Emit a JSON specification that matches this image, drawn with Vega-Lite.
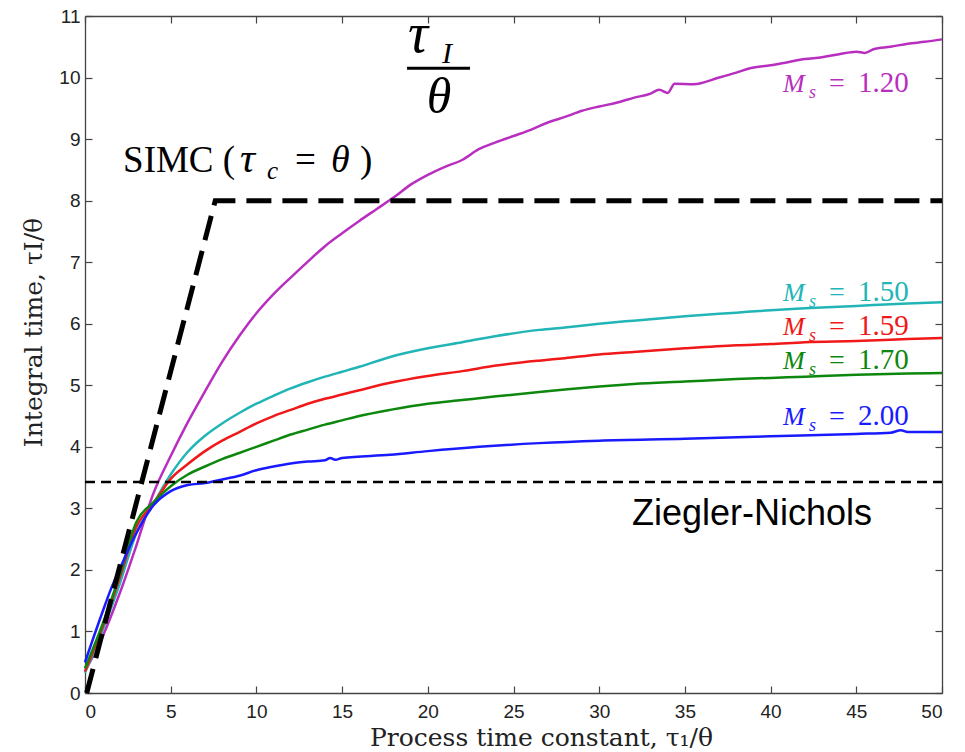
{
  "$schema": "https://vega.github.io/schema/vega-lite/v6.json",
  "width": 857,
  "height": 677,
  "autosize": {"type": "none"},
  "padding": {"left": 85, "top": 16, "right": 23, "bottom": 59},
  "background": "white",
  "config": {
    "view": {"stroke": null},
    "axis": {
      "grid": false,
      "domainColor": "#444",
      "domainWidth": 1.3,
      "tickColor": "#444",
      "tickWidth": 1.2,
      "labelFont": "Liberation Sans",
      "labelFontSize": 19,
      "labelColor": "#222",
      "titleFont": "DejaVu Serif",
      "titleFontWeight": "normal",
      "titleFontSize": 25,
      "titleColor": "#222"
    }
  },
  "datasets": {
    "curves": [
      {"ms": "1.20", "x": 0, "y": 0.35}, {"ms": "1.20", "x": 1, "y": 0.9}, {"ms": "1.20", "x": 2, "y": 1.6}, {"ms": "1.20", "x": 3, "y": 2.4},
      {"ms": "1.20", "x": 4, "y": 3.25}, {"ms": "1.20", "x": 5, "y": 3.85}, {"ms": "1.20", "x": 6, "y": 4.4}, {"ms": "1.20", "x": 7, "y": 4.9},
      {"ms": "1.20", "x": 8, "y": 5.38}, {"ms": "1.20", "x": 9, "y": 5.8}, {"ms": "1.20", "x": 10, "y": 6.17}, {"ms": "1.20", "x": 11, "y": 6.48},
      {"ms": "1.20", "x": 12, "y": 6.75}, {"ms": "1.20", "x": 13, "y": 7.01}, {"ms": "1.20", "x": 14, "y": 7.26}, {"ms": "1.20", "x": 15, "y": 7.47},
      {"ms": "1.20", "x": 16, "y": 7.67}, {"ms": "1.20", "x": 17, "y": 7.86}, {"ms": "1.20", "x": 18, "y": 8.05}, {"ms": "1.20", "x": 19, "y": 8.26},
      {"ms": "1.20", "x": 20, "y": 8.42}, {"ms": "1.20", "x": 21, "y": 8.55}, {"ms": "1.20", "x": 22, "y": 8.66}, {"ms": "1.20", "x": 23, "y": 8.84},
      {"ms": "1.20", "x": 24, "y": 8.95}, {"ms": "1.20", "x": 25, "y": 9.05}, {"ms": "1.20", "x": 26, "y": 9.15}, {"ms": "1.20", "x": 27, "y": 9.27},
      {"ms": "1.20", "x": 28, "y": 9.36}, {"ms": "1.20", "x": 29, "y": 9.46}, {"ms": "1.20", "x": 30, "y": 9.53}, {"ms": "1.20", "x": 31, "y": 9.59},
      {"ms": "1.20", "x": 32, "y": 9.67}, {"ms": "1.20", "x": 33, "y": 9.74}, {"ms": "1.20", "x": 33.5, "y": 9.8}, {"ms": "1.20", "x": 34, "y": 9.75},
      {"ms": "1.20", "x": 34.4, "y": 9.9}, {"ms": "1.20", "x": 35.5, "y": 9.89}, {"ms": "1.20", "x": 37, "y": 10.0}, {"ms": "1.20", "x": 38, "y": 10.08},
      {"ms": "1.20", "x": 38.8, "y": 10.15}, {"ms": "1.20", "x": 40, "y": 10.2}, {"ms": "1.20", "x": 41, "y": 10.25}, {"ms": "1.20", "x": 42, "y": 10.3},
      {"ms": "1.20", "x": 43, "y": 10.33}, {"ms": "1.20", "x": 44, "y": 10.38}, {"ms": "1.20", "x": 45, "y": 10.42}, {"ms": "1.20", "x": 45.5, "y": 10.4},
      {"ms": "1.20", "x": 46, "y": 10.46}, {"ms": "1.20", "x": 47, "y": 10.5}, {"ms": "1.20", "x": 48, "y": 10.55}, {"ms": "1.20", "x": 49, "y": 10.58},
      {"ms": "1.20", "x": 50, "y": 10.62},

      {"ms": "1.50", "x": 0, "y": 0.33}, {"ms": "1.50", "x": 1, "y": 1.0}, {"ms": "1.50", "x": 2, "y": 1.75}, {"ms": "1.50", "x": 3, "y": 2.6},
      {"ms": "1.50", "x": 4, "y": 3.08}, {"ms": "1.50", "x": 5, "y": 3.55}, {"ms": "1.50", "x": 6, "y": 3.92}, {"ms": "1.50", "x": 7, "y": 4.18},
      {"ms": "1.50", "x": 8, "y": 4.38}, {"ms": "1.50", "x": 9, "y": 4.55}, {"ms": "1.50", "x": 10, "y": 4.7}, {"ms": "1.50", "x": 11, "y": 4.83},
      {"ms": "1.50", "x": 12, "y": 4.95}, {"ms": "1.50", "x": 13, "y": 5.05}, {"ms": "1.50", "x": 14, "y": 5.14}, {"ms": "1.50", "x": 15, "y": 5.22},
      {"ms": "1.50", "x": 16, "y": 5.3}, {"ms": "1.50", "x": 17.8, "y": 5.46}, {"ms": "1.50", "x": 20, "y": 5.6}, {"ms": "1.50", "x": 22, "y": 5.7},
      {"ms": "1.50", "x": 24, "y": 5.8}, {"ms": "1.50", "x": 26.5, "y": 5.9}, {"ms": "1.50", "x": 28, "y": 5.94}, {"ms": "1.50", "x": 30, "y": 6.0},
      {"ms": "1.50", "x": 32, "y": 6.05}, {"ms": "1.50", "x": 35, "y": 6.12}, {"ms": "1.50", "x": 38, "y": 6.18}, {"ms": "1.50", "x": 40, "y": 6.22},
      {"ms": "1.50", "x": 42, "y": 6.25}, {"ms": "1.50", "x": 45, "y": 6.29}, {"ms": "1.50", "x": 48, "y": 6.33}, {"ms": "1.50", "x": 50, "y": 6.35},

      {"ms": "1.59", "x": 0, "y": 0.35}, {"ms": "1.59", "x": 1, "y": 1.05}, {"ms": "1.59", "x": 2, "y": 1.85}, {"ms": "1.59", "x": 3, "y": 2.7},
      {"ms": "1.59", "x": 4, "y": 3.08}, {"ms": "1.59", "x": 5, "y": 3.48}, {"ms": "1.59", "x": 6, "y": 3.72}, {"ms": "1.59", "x": 7, "y": 3.93},
      {"ms": "1.59", "x": 8, "y": 4.1}, {"ms": "1.59", "x": 9, "y": 4.24}, {"ms": "1.59", "x": 10, "y": 4.38}, {"ms": "1.59", "x": 11, "y": 4.5},
      {"ms": "1.59", "x": 12, "y": 4.6}, {"ms": "1.59", "x": 13, "y": 4.7}, {"ms": "1.59", "x": 14, "y": 4.78}, {"ms": "1.59", "x": 15, "y": 4.85},
      {"ms": "1.59", "x": 16, "y": 4.92}, {"ms": "1.59", "x": 17.8, "y": 5.04}, {"ms": "1.59", "x": 20, "y": 5.15}, {"ms": "1.59", "x": 22, "y": 5.23},
      {"ms": "1.59", "x": 24, "y": 5.32}, {"ms": "1.59", "x": 26.5, "y": 5.4}, {"ms": "1.59", "x": 28, "y": 5.44}, {"ms": "1.59", "x": 30, "y": 5.5},
      {"ms": "1.59", "x": 32, "y": 5.54}, {"ms": "1.59", "x": 35, "y": 5.6}, {"ms": "1.59", "x": 38, "y": 5.65}, {"ms": "1.59", "x": 40, "y": 5.67},
      {"ms": "1.59", "x": 42, "y": 5.7}, {"ms": "1.59", "x": 45, "y": 5.72}, {"ms": "1.59", "x": 48, "y": 5.75}, {"ms": "1.59", "x": 50, "y": 5.77},

      {"ms": "1.70", "x": 0, "y": 0.4}, {"ms": "1.70", "x": 1, "y": 1.1}, {"ms": "1.70", "x": 2, "y": 1.9}, {"ms": "1.70", "x": 3, "y": 2.78},
      {"ms": "1.70", "x": 4, "y": 3.1}, {"ms": "1.70", "x": 5, "y": 3.36}, {"ms": "1.70", "x": 6, "y": 3.55}, {"ms": "1.70", "x": 7, "y": 3.68},
      {"ms": "1.70", "x": 8, "y": 3.8}, {"ms": "1.70", "x": 9, "y": 3.9}, {"ms": "1.70", "x": 10, "y": 4.0}, {"ms": "1.70", "x": 11, "y": 4.1},
      {"ms": "1.70", "x": 12, "y": 4.2}, {"ms": "1.70", "x": 13, "y": 4.28}, {"ms": "1.70", "x": 14, "y": 4.36}, {"ms": "1.70", "x": 15, "y": 4.43},
      {"ms": "1.70", "x": 16, "y": 4.5}, {"ms": "1.70", "x": 17.8, "y": 4.6}, {"ms": "1.70", "x": 20, "y": 4.7}, {"ms": "1.70", "x": 22, "y": 4.76},
      {"ms": "1.70", "x": 24, "y": 4.82}, {"ms": "1.70", "x": 26.5, "y": 4.89}, {"ms": "1.70", "x": 28, "y": 4.93}, {"ms": "1.70", "x": 30, "y": 4.98},
      {"ms": "1.70", "x": 32, "y": 5.02}, {"ms": "1.70", "x": 35, "y": 5.06}, {"ms": "1.70", "x": 38, "y": 5.1}, {"ms": "1.70", "x": 40, "y": 5.12},
      {"ms": "1.70", "x": 42, "y": 5.14}, {"ms": "1.70", "x": 45, "y": 5.17}, {"ms": "1.70", "x": 48, "y": 5.19}, {"ms": "1.70", "x": 50, "y": 5.2},

      {"ms": "2.00", "x": 0, "y": 0.5}, {"ms": "2.00", "x": 1, "y": 1.3}, {"ms": "2.00", "x": 1.5, "y": 1.68}, {"ms": "2.00", "x": 2, "y": 2.0},
      {"ms": "2.00", "x": 3, "y": 2.6}, {"ms": "2.00", "x": 4, "y": 3.05}, {"ms": "2.00", "x": 5, "y": 3.28}, {"ms": "2.00", "x": 6, "y": 3.38},
      {"ms": "2.00", "x": 7, "y": 3.41}, {"ms": "2.00", "x": 8, "y": 3.47}, {"ms": "2.00", "x": 9, "y": 3.53}, {"ms": "2.00", "x": 10, "y": 3.62},
      {"ms": "2.00", "x": 11, "y": 3.68}, {"ms": "2.00", "x": 12, "y": 3.73}, {"ms": "2.00", "x": 13, "y": 3.76}, {"ms": "2.00", "x": 14, "y": 3.78},
      {"ms": "2.00", "x": 14.3, "y": 3.82}, {"ms": "2.00", "x": 14.6, "y": 3.79}, {"ms": "2.00", "x": 15, "y": 3.82}, {"ms": "2.00", "x": 17.8, "y": 3.87},
      {"ms": "2.00", "x": 20, "y": 3.93}, {"ms": "2.00", "x": 23, "y": 4.0}, {"ms": "2.00", "x": 26.5, "y": 4.06}, {"ms": "2.00", "x": 30, "y": 4.1},
      {"ms": "2.00", "x": 35, "y": 4.13}, {"ms": "2.00", "x": 40, "y": 4.17}, {"ms": "2.00", "x": 45, "y": 4.21}, {"ms": "2.00", "x": 47, "y": 4.23},
      {"ms": "2.00", "x": 47.6, "y": 4.27}, {"ms": "2.00", "x": 48, "y": 4.24}, {"ms": "2.00", "x": 50, "y": 4.24}
    ],
    "simc": [{"x": 0.1, "y": 0}, {"x": 7.6, "y": 8}, {"x": 50, "y": 8}],
    "zn": [{"x": 0, "y": 3.43}, {"x": 50, "y": 3.43}],
    "labels": [
      {"ms": "1.20", "x": 40.72, "y": 9.76},
      {"ms": "1.50", "x": 40.72, "y": 6.37},
      {"ms": "1.59", "x": 40.72, "y": 5.82},
      {"ms": "1.70", "x": 40.72, "y": 5.27},
      {"ms": "2.00", "x": 40.72, "y": 4.36}
    ],
    "simcAnchor": [{"x": 2.22, "y": 8.46}],
    "ratioTop": [{"x": 18.84, "y": 10.42}],
    "ratioBar": [{"x": 18.79, "x2": 22.46, "y": 10.15}],
    "ratioBottom": [{"x": 20.65, "y": 9.43}],
    "znAnchor": [{"x": 38.92, "y": 2.73}]
  },
  "layer": [
    {
      "data": {"name": "curves"},
      "mark": {"type": "line", "strokeWidth": 2.5, "interpolate": "monotone"},
      "encoding": {
        "x": {
          "field": "x", "type": "quantitative",
          "scale": {"domain": [0, 50], "nice": false},
          "axis": {
            "orient": "bottom", "values": [0, 5, 10, 15, 20, 25, 30, 35, 40, 45, 50],
            "tickSize": -7, "labelPadding": 16, "labelBaseline": "top",
            "title": "Process time constant, τ₁/θ",
            "titleX": 456, "titleY": 44, "titleBaseline": "middle", "titleAnchor": null
          }
        },
        "y": {
          "field": "y", "type": "quantitative",
          "scale": {"domain": [0, 11], "nice": false},
          "axis": {
            "orient": "left", "values": [0, 1, 2, 3, 4, 5, 6, 7, 8, 9, 10, 11],
            "tickSize": -7, "labelPadding": 12,
            "title": "Integral time, τI/θ",
            "titleAngle": -90, "titleX": -52, "titleY": 316,
            "titleBaseline": "middle", "titleAlign": "center", "titleAnchor": null
          }
        },
        "color": {
          "field": "ms", "type": "nominal",
          "scale": {
            "domain": ["1.20", "1.50", "1.59", "1.70", "2.00"],
            "range": ["#b82fc0", "#22b5b8", "#f01818", "#0d870d", "#1a1aff"]
          },
          "legend": null
        },
        "order": {"field": "x", "type": "quantitative"}
      }
    },
    {
      "data": {"name": "zn"},
      "mark": {"type": "line", "color": "black", "strokeWidth": 2.5, "strokeDash": [10, 6]},
      "encoding": {
        "x": {"field": "x", "type": "quantitative", "axis": null},
        "y": {"field": "y", "type": "quantitative", "axis": null}
      }
    },
    {
      "data": {"name": "simc"},
      "mark": {"type": "line", "color": "black", "strokeWidth": 5, "strokeDash": [25, 11], "strokeCap": "butt"},
      "encoding": {
        "x": {
          "field": "x", "type": "quantitative",
          "scale": {"domain": [0, 50], "nice": false},
          "axis": {"orient": "top", "values": [0, 5, 10, 15, 20, 25, 30, 35, 40, 45, 50], "tickSize": -7, "labels": false, "title": null}
        },
        "y": {
          "field": "y", "type": "quantitative",
          "scale": {"domain": [0, 11], "nice": false},
          "axis": {"orient": "right", "values": [0, 1, 2, 3, 4, 5, 6, 7, 8, 9, 10, 11], "tickSize": -7, "labels": false, "title": null}
        }
      }
    },
    {
      "data": {"name": "labels"},
      "mark": {"type": "text", "text": "M", "font": "Liberation Serif", "fontStyle": "italic", "fontSize": 26, "align": "left", "baseline": "alphabetic"},
      "encoding": {
        "x": {"field": "x", "type": "quantitative", "axis": null},
        "y": {"field": "y", "type": "quantitative", "axis": null},
        "color": {"field": "ms", "type": "nominal", "legend": null}
      }
    },
    {
      "data": {"name": "labels"},
      "mark": {"type": "text", "text": "s", "font": "Liberation Serif", "fontStyle": "italic", "fontSize": 18, "align": "left", "baseline": "alphabetic", "dx": 26, "dy": 6},
      "encoding": {
        "x": {"field": "x", "type": "quantitative", "axis": null},
        "y": {"field": "y", "type": "quantitative", "axis": null},
        "color": {"field": "ms", "type": "nominal", "legend": null}
      }
    },
    {
      "data": {"name": "labels"},
      "mark": {"type": "text", "text": "=", "font": "Liberation Serif", "fontSize": 28, "align": "left", "baseline": "alphabetic", "dx": 46},
      "encoding": {
        "x": {"field": "x", "type": "quantitative", "axis": null},
        "y": {"field": "y", "type": "quantitative", "axis": null},
        "color": {"field": "ms", "type": "nominal", "legend": null}
      }
    },
    {
      "data": {"name": "labels"},
      "mark": {"type": "text", "font": "Liberation Serif", "fontSize": 29, "align": "left", "baseline": "alphabetic", "dx": 75},
      "encoding": {
        "x": {"field": "x", "type": "quantitative", "axis": null},
        "y": {"field": "y", "type": "quantitative", "axis": null},
        "text": {"field": "ms", "type": "nominal"},
        "color": {"field": "ms", "type": "nominal", "legend": null}
      }
    },
    {
      "data": {"name": "simcAnchor"},
      "mark": {"type": "text", "text": "SIMC (", "font": "Liberation Serif", "fontSize": 37, "align": "left", "baseline": "alphabetic", "color": "black"},
      "encoding": {"x": {"field": "x", "type": "quantitative", "axis": null}, "y": {"field": "y", "type": "quantitative", "axis": null}}
    },
    {
      "data": {"name": "simcAnchor"},
      "mark": {"type": "text", "text": "τ", "font": "Liberation Serif", "fontStyle": "italic", "fontSize": 42, "align": "left", "baseline": "alphabetic", "color": "black", "dx": 117},
      "encoding": {"x": {"field": "x", "type": "quantitative", "axis": null}, "y": {"field": "y", "type": "quantitative", "axis": null}}
    },
    {
      "data": {"name": "simcAnchor"},
      "mark": {"type": "text", "text": "c", "font": "Liberation Serif", "fontStyle": "italic", "fontSize": 25, "align": "left", "baseline": "alphabetic", "color": "black", "dx": 144, "dy": 7},
      "encoding": {"x": {"field": "x", "type": "quantitative", "axis": null}, "y": {"field": "y", "type": "quantitative", "axis": null}}
    },
    {
      "data": {"name": "simcAnchor"},
      "mark": {"type": "text", "text": "=", "font": "Liberation Serif", "fontSize": 37, "align": "left", "baseline": "alphabetic", "color": "black", "dx": 172},
      "encoding": {"x": {"field": "x", "type": "quantitative", "axis": null}, "y": {"field": "y", "type": "quantitative", "axis": null}}
    },
    {
      "data": {"name": "simcAnchor"},
      "mark": {"type": "text", "text": "θ", "font": "Liberation Serif", "fontStyle": "italic", "fontSize": 38, "align": "left", "baseline": "alphabetic", "color": "black", "dx": 208},
      "encoding": {"x": {"field": "x", "type": "quantitative", "axis": null}, "y": {"field": "y", "type": "quantitative", "axis": null}}
    },
    {
      "data": {"name": "simcAnchor"},
      "mark": {"type": "text", "text": ")", "font": "Liberation Serif", "fontSize": 37, "align": "left", "baseline": "alphabetic", "color": "black", "dx": 237},
      "encoding": {"x": {"field": "x", "type": "quantitative", "axis": null}, "y": {"field": "y", "type": "quantitative", "axis": null}}
    },
    {
      "data": {"name": "ratioTop"},
      "mark": {"type": "text", "text": "τ", "font": "Liberation Serif", "fontStyle": "italic", "fontSize": 56, "align": "left", "baseline": "alphabetic", "color": "black"},
      "encoding": {"x": {"field": "x", "type": "quantitative", "axis": null}, "y": {"field": "y", "type": "quantitative", "axis": null}}
    },
    {
      "data": {"name": "ratioTop"},
      "mark": {"type": "text", "text": "I", "font": "Liberation Serif", "fontStyle": "italic", "fontSize": 30, "align": "left", "baseline": "alphabetic", "color": "black", "dx": 34, "dy": 11},
      "encoding": {"x": {"field": "x", "type": "quantitative", "axis": null}, "y": {"field": "y", "type": "quantitative", "axis": null}}
    },
    {
      "data": {"name": "ratioBar"},
      "mark": {"type": "rule", "color": "black", "strokeWidth": 3},
      "encoding": {
        "x": {"field": "x", "type": "quantitative", "axis": null},
        "x2": {"field": "x2"},
        "y": {"field": "y", "type": "quantitative", "axis": null}
      }
    },
    {
      "data": {"name": "ratioBottom"},
      "mark": {"type": "text", "text": "θ", "font": "Liberation Serif", "fontStyle": "italic", "fontSize": 50, "align": "center", "baseline": "alphabetic", "color": "black"},
      "encoding": {"x": {"field": "x", "type": "quantitative", "axis": null}, "y": {"field": "y", "type": "quantitative", "axis": null}}
    },
    {
      "data": {"name": "znAnchor"},
      "mark": {"type": "text", "text": "Ziegler-Nichols", "font": "Liberation Sans", "fontSize": 36, "align": "center", "baseline": "alphabetic", "color": "black"},
      "encoding": {"x": {"field": "x", "type": "quantitative", "axis": null}, "y": {"field": "y", "type": "quantitative", "axis": null}}
    }
  ],
  "resolve": {"axis": {"x": "independent", "y": "independent"}}
}
